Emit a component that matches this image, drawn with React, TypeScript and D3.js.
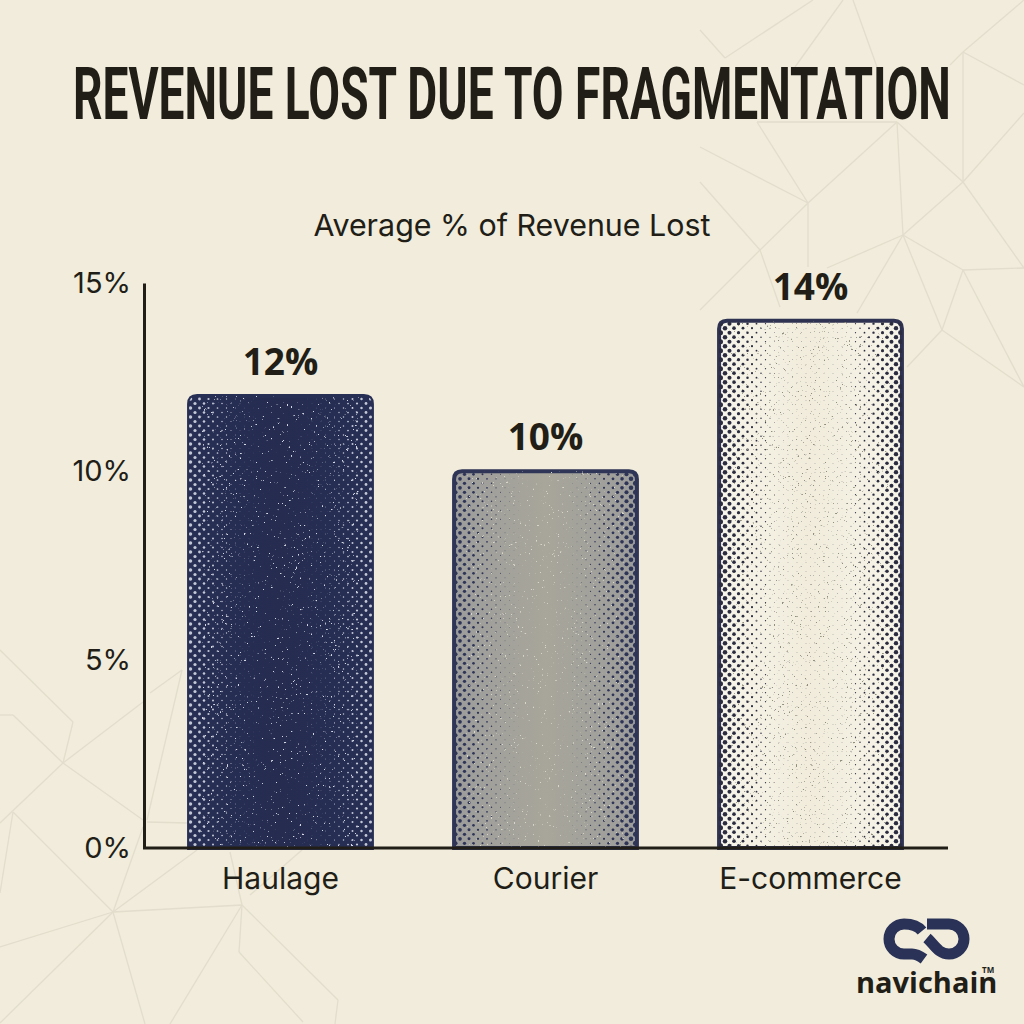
import { useRef, useEffect } from 'react';
import * as d3 from 'd3';

const categories = ['Haulage', 'Courier', 'E-commerce'];
const revenueLost = [12, 10, 14];
const yTicks = [0, 5, 10, 15];

const paper = '#f1ecdb';
const ink = '#211e17';
const navy = '#2a3258';

// faint polygon mesh behind the chart, [x1, y1, x2, y2]
const meshLines = [
  [700, 30, 725, 58], [725, 58, 813, 0], [795, 67, 843, 0], [853, 0, 877, 67],
  [963, 52, 1024, 0], [963, 52, 950, 65], [963, 52, 1024, 85], [963, 52, 963, 182],
  [757, 122, 897, 122], [757, 122, 808, 203], [700, 147, 808, 203], [897, 122, 808, 203],
  [897, 122, 903, 235], [897, 122, 963, 182], [1024, 113, 963, 182], [963, 182, 903, 235],
  [963, 182, 1024, 268], [808, 203, 808, 267], [808, 203, 760, 250], [700, 182, 760, 250],
  [760, 250, 700, 310], [760, 250, 780, 307], [903, 235, 827, 268], [903, 235, 857, 313],
  [903, 235, 942, 330], [903, 235, 963, 270], [963, 270, 1024, 268], [963, 270, 942, 330],
  [963, 270, 1024, 387], [942, 330, 1024, 387], [942, 330, 907, 367],
  [0, 650, 73, 722], [73, 722, 63, 763], [0, 715, 13, 715], [13, 715, 63, 763],
  [63, 763, 143, 702], [150, 693, 182, 670], [182, 670, 147, 820], [63, 763, 143, 820],
  [63, 763, 0, 823], [147, 822, 187, 823], [13, 812, 113, 912], [13, 812, 0, 893],
  [143, 827, 113, 912], [197, 850, 113, 912], [113, 912, 242, 905], [113, 912, 0, 947],
  [113, 912, 0, 1023], [113, 912, 145, 1024], [242, 905, 170, 1024], [242, 905, 239, 952],
  [239, 952, 303, 1022], [242, 905, 338, 1000], [338, 1000, 335, 1024], [230, 852, 242, 905],
  [302, 850, 250, 895],
];

// look of each bar: base gradient, halftone dots, speckle
const barStyles = [
  { edge: '#282f55', mid: '#252c50', stroke: '#282f55', dot: '#c3c8d6', left: 1.8, right: 1.6, floor: 0, speck: '#d5d9e4' },
  { edge: '#9c9c9c', mid: '#a8a69a', stroke: '#2f3557', dot: '#2f3557', left: 2.1, right: 2.6, floor: 0, speck: '#d8d6c8' },
  { edge: '#f7f4ea', mid: '#f1ecdb', stroke: '#2f3250', dot: '#2b2c40', left: 2.6, right: 2.5, floor: 0.3, speck: '#8f8d7c' },
];

export default function App() {
  const ref = useRef<SVGSVGElement>(null);

  useEffect(() => {
    if (!ref.current) return;

    const svg = d3.select(ref.current);
    svg.selectAll('*').remove(); // Clear previous renders

    const xScale = d3
      .scaleBand()
      .domain(categories)
      .range([148, 943])
      .paddingInner(0.31)
      .paddingOuter(0.155);

    const yScale = d3.scaleLinear().domain([0, 15]).range([848, 283]);

    const defs = svg.append('defs');

    // speckle: thresholded noise
    const speck = defs
      .append('filter')
      .attr('id', 'speck')
      .attr('x', 0)
      .attr('y', 0)
      .attr('width', 1)
      .attr('height', 1)
      .attr('color-interpolation-filters', 'sRGB');
    speck
      .append('feTurbulence')
      .attr('type', 'fractalNoise')
      .attr('baseFrequency', 0.45)
      .attr('numOctaves', 2)
      .attr('seed', 7)
      .attr('result', 'noise');
    speck
      .append('feColorMatrix')
      .attr('in', 'noise')
      .attr('type', 'matrix')
      .attr('values', '0 0 0 0 0  0 0 0 0 0  0 0 0 0 0  14 0 0 0 -10')
      .attr('result', 'mask');
    speck.append('feComposite').attr('in', 'SourceGraphic').attr('in2', 'mask').attr('operator', 'in');

    svg.append('rect').attr('width', 1024).attr('height', 1024).attr('fill', paper);

    svg
      .append('g')
      .attr('stroke', '#e2ddcc')
      .attr('stroke-width', 1.3)
      .selectAll('line')
      .data(meshLines)
      .enter()
      .append('line')
      .attr('x1', (d) => d[0])
      .attr('y1', (d) => d[1])
      .attr('x2', (d) => d[2])
      .attr('y2', (d) => d[3]);

    // Title is a condensed poster face, so squeeze a bold sans to width
    const title = svg
      .append('text')
      .attr('font-family', 'Roboto')
      .attr('font-weight', 700)
      .attr('font-size', 73)
      .attr('fill', ink)
      .text('REVENUE LOST DUE TO FRAGMENTATION');
    const titleWidth = (title.node() as SVGTextElement).getComputedTextLength();
    title.attr('transform', `translate(73,119) scale(${878 / titleWidth},1)`);

    svg
      .append('text')
      .attr('x', 512)
      .attr('y', 236)
      .attr('text-anchor', 'middle')
      .attr('font-family', 'Inter')
      .attr('font-size', 30.4)
      .attr('fill', ink)
      .text('Average % of Revenue Lost');

    // Bars
    categories.forEach((name, i) => {
      const style = barStyles[i];
      const x0 = xScale(name)!;
      const w = xScale.bandwidth();
      const y0 = yScale(revenueLost[i]);
      const h = yScale(0) - y0;
      const cx = x0 + w / 2;

      const grad = defs
        .append('linearGradient')
        .attr('id', `bar-fill-${i}`)
        .attr('x1', 0)
        .attr('x2', 1);
      grad.append('stop').attr('offset', 0).attr('stop-color', style.edge);
      grad.append('stop').attr('offset', 0.5).attr('stop-color', style.mid);
      grad.append('stop').attr('offset', 1).attr('stop-color', style.edge);

      const barPath = `M${x0},${y0 + h}V${y0 + 8}Q${x0},${y0} ${x0 + 8},${y0}H${x0 + w - 8}Q${x0 + w},${y0} ${x0 + w},${y0 + 8}V${y0 + h}Z`;

      defs.append('clipPath').attr('id', `bar-clip-${i}`).append('path').attr('d', barPath);

      const g = svg.append('g');
      g.append('path')
        .attr('d', barPath)
        .attr('fill', `url(#bar-fill-${i})`)
        .attr('stroke', style.stroke)
        .attr('stroke-width', 4);

      const rows = d3.range(0, Math.ceil(h / 4.5) + 1);
      const cols = d3.range(-11, 12);
      const dots = rows.flatMap((r) =>
        cols.map((c) => ({ x: cx + (c + (r % 2) / 2) * 9, y: y0 + 3 + r * 4.5 }))
      );
      g.append('g')
        .attr('clip-path', `url(#bar-clip-${i})`)
        .attr('fill', style.dot)
        .selectAll('circle')
        .data(dots)
        .enter()
        .append('circle')
        .attr('cx', (d) => d.x)
        .attr('cy', (d) => d.y)
        .attr('r', (d) => {
          const t = Math.abs(d.x - cx) / (w / 2);
          const edge = d.x < cx ? style.left : style.right;
          return Math.max(style.floor, edge * t * t);
        });

      g.append('g')
        .attr('clip-path', `url(#bar-clip-${i})`)
        .append('rect')
        .attr('x', x0 + 12)
        .attr('y', y0)
        .attr('width', w - 24)
        .attr('height', h)
        .attr('fill', style.speck)
        .attr('filter', 'url(#speck)');

      svg
        .append('text')
        .attr('x', cx)
        .attr('y', y0 - 21)
        .attr('text-anchor', 'middle')
        .attr('font-family', 'Open Sans')
        .attr('font-weight', 700)
        .attr('font-size', 37)
        .attr('fill', ink)
        .text(`${revenueLost[i]}%`);
    });

    // Axes
    const yAxis = svg
      .append('g')
      .attr('transform', 'translate(144,0)')
      .call(
        d3
          .axisLeft(yScale)
          .tickValues(yTicks)
          .tickFormat((d) => `${d}%`)
          .tickSize(0)
          .tickPadding(13)
      );
    yAxis.select('.domain').attr('stroke', ink).attr('stroke-width', 3);
    yAxis
      .selectAll('text')
      .attr('font-family', 'Inter')
      .attr('font-size', 29)
      .attr('dy', '0.33em')
      .attr('fill', ink);

    const xAxis = svg
      .append('g')
      .attr('transform', 'translate(0,848)')
      .call(d3.axisBottom(xScale).tickSize(0).tickPadding(20));
    xAxis.select('.domain').remove();
    xAxis.selectAll('text').attr('font-family', 'Inter').attr('font-size', 30).attr('fill', ink);
    xAxis
      .append('line')
      .attr('x1', 143)
      .attr('x2', 948)
      .attr('stroke', ink)
      .attr('stroke-width', 3);

    // Logo
    const logo = svg
      .append('g')
      .attr('fill', 'none')
      .attr('stroke', navy)
      .attr('stroke-width', 11);
    logo.append('path').attr('d', 'M922,931C918,926 912,924 904,924A15,15 0 0 0 904,954L912,954C917,954 920,956 924,959');
    logo.append('path').attr('d', 'M927,924L949,924A15,15 0 0 1 949,954C938,954 934,944 927,938');
    svg
      .append('text')
      .attr('x', 856)
      .attr('y', 993)
      .attr('font-family', 'Open Sans')
      .attr('font-weight', 700)
      .attr('font-size', 29)
      .attr('fill', ink)
      .text('navichain');
    svg
      .append('text')
      .attr('x', 982)
      .attr('y', 973)
      .attr('font-family', 'Open Sans')
      .attr('font-weight', 700)
      .attr('font-size', 8)
      .attr('fill', ink)
      .text('TM');
  }, []);

  return (
    <svg
      ref={ref}
      width={1024}
      height={1024}
      style={{ position: 'absolute', left: 0, top: 0 }}
    />
  );
}
